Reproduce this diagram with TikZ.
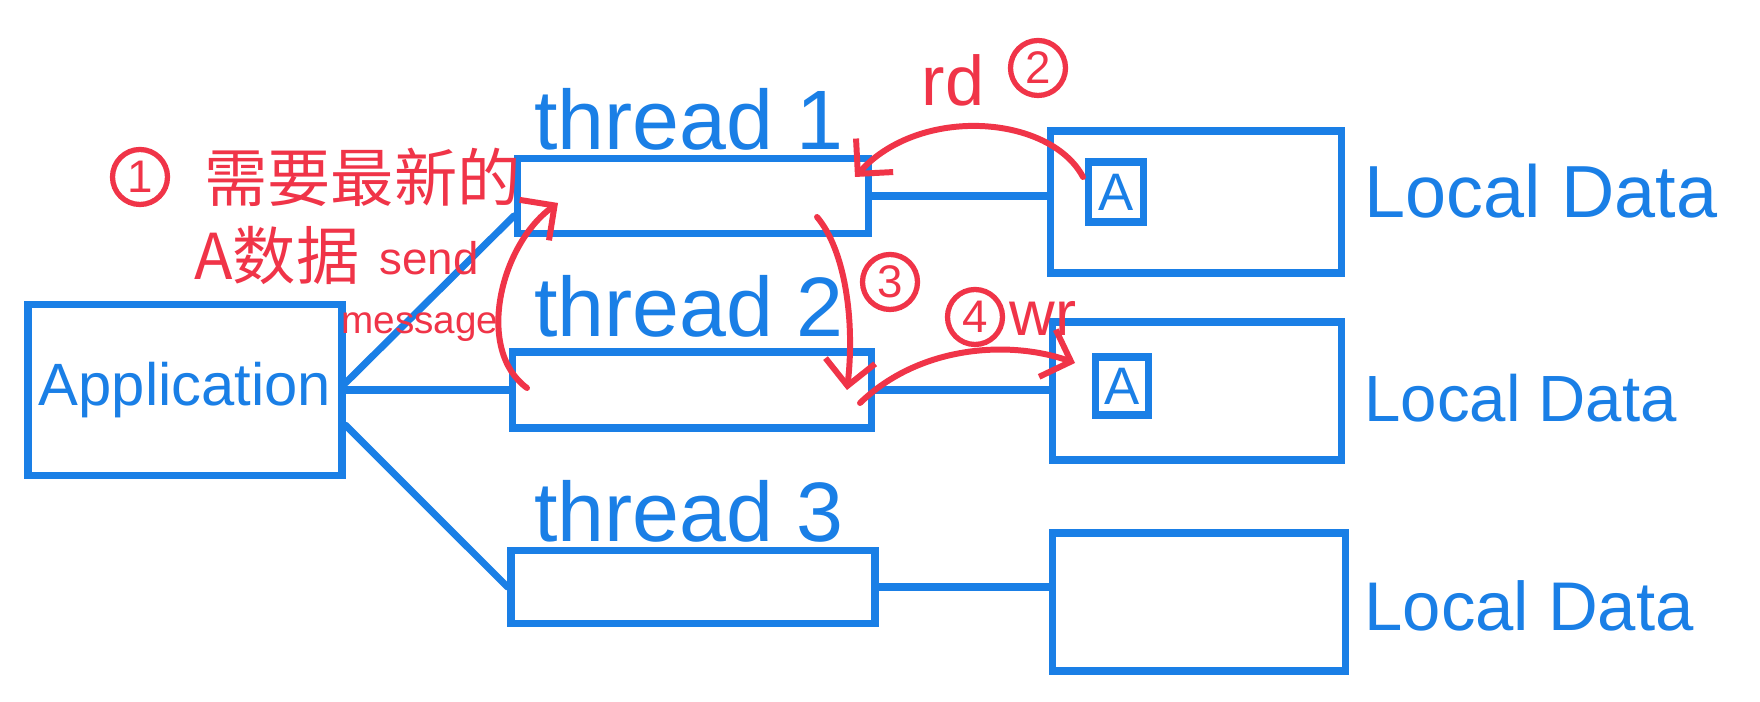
\documentclass[tikz,border=0pt]{standalone}
\usepackage{fontspec}
\setmainfont{Liberation Sans}
\newfontfamily\cjk{Noto Sans CJK SC}
\usetikzlibrary{arrows.meta}
\definecolor{penblue}{RGB}{26,127,230}
\definecolor{penred}{RGB}{240,52,72}

\begin{document}
\begin{tikzpicture}[x=0.1mm, y=-0.1mm,
    box/.style={draw=penblue, line width=2pt, inner sep=0pt},
    wire/.style={penblue, line width=2pt, line cap=round},
    note/.style={penred, line width=1.7pt, line cap=round, -{Straight Barb[length=2.5mm,width=5mm]}},
    numcirc/.style={circle, draw=penred, line width=1.5pt, minimum size=5.5mm, inner sep=0pt, text=penred, font=\fontsize{13}{13}\selectfont},
    bluetext/.style={text=penblue, font=\fontsize{24}{24}\selectfont},
    redtext/.style={text=penred}]
    \fill[white] (0,0) rectangle (1760,702);
    \useasboundingbox (0,0) rectangle (1760,702);

    % 1. 应用与线程方框
    \node[box, minimum width=31.4mm, minimum height=17.1mm, text=penblue, font=\fontsize{17}{17}\selectfont] (app) at (185,390) {Application};
    \node[box, minimum width=35.1mm, minimum height=7.5mm] (t1) at (693,196) {};
    \node[box, minimum width=35.9mm, minimum height=7.6mm] (t2) at (692,390) {};
    \node[box, minimum width=36.4mm, minimum height=7.3mm] (t3) at (693,587) {};
    \node[bluetext] (t1lab) at (689,119) {thread 1};
    \node[bluetext] (t2lab) at (689,306) {thread 2};
    \node[bluetext] (t3lab) at (689,511) {thread 3};

    % 2. 本地数据方框
    \node[box, minimum width=29.1mm, minimum height=14.2mm] (ld1) at (1196,202) {};
    \node[box, minimum width=28.9mm, minimum height=13.8mm] (ld2) at (1197,391) {};
    \node[box, minimum width=29.3mm, minimum height=13.8mm] (ld3) at (1199,602) {};
    \node[box, minimum width=5.5mm, minimum height=6mm, text=penblue, font=\fontsize{15}{15}\selectfont] (a1) at (1116,192) {A};
    \node[box, minimum width=5.3mm, minimum height=5.8mm, text=penblue, font=\fontsize{15}{15}\selectfont] (a2) at (1122,386) {A};
    \node[bluetext, font=\fontsize{21}{21}\selectfont, anchor=west] (ld1lab) at (1352,191) {Local Data};
    \node[bluetext, font=\fontsize{18.6}{18.6}\selectfont, anchor=west] (ld2lab) at (1352,398) {Local Data};
    \node[bluetext, font=\fontsize{19.6}{19.6}\selectfont, anchor=west] (ld3lab) at (1352,606) {Local Data};

    % 3. 连线
    \draw[wire] ([yshift=2pt]app.east) -- ([yshift=6pt]t1.south west);
    \draw[wire] (app.east) -- (t2.west);
    \draw[wire] ([yshift=-10pt]app.east) -- (t3.west);
    \draw[wire] (t1.east) -- (t1.east -| ld1.west);
    \draw[wire] (t2.east) -- (t2.east -| ld2.west);
    \draw[wire] (t3.east) -- (t3.east -| ld3.west);

    % 4. 红色批注
    \node[numcirc] (n1) at (140,177) {1};
    \node[redtext, font=\cjk\fontsize{18}{18}\selectfont, anchor=west] (need) at (192,177) {需要最新的};
    \node[redtext, font=\cjk\fontsize{18}{18}\selectfont, anchor=west] (adata) at (182,256) {A数据};
    \node[redtext, font=\fontsize{13}{13}\selectfont] (send) at (429,258) {send};
    \node[redtext, font=\fontsize{11}{11}\selectfont] (msg) at (420,327) {message};
    \node[redtext, font=\fontsize{20}{20}\selectfont] (rd) at (953,80) {rd};
    \node[numcirc] (n2) at (1038,68) {2};
    \node[numcirc] (n3) at (890,282) {3};
    \node[numcirc] (n4) at (975,317) {4};
    \node[redtext, font=\fontsize{18}{18}\selectfont] (wr) at (1043,318) {wr};

    % 5. 红色箭头
    \coordinate (s1) at (527,388);
    \coordinate (e1) at (558,203);
    \coordinate (s2) at (1083,177);
    \coordinate (e2) at (855,177);
    \coordinate (s3) at (817,217);
    \coordinate (e3) at (847,390);
    \coordinate (s4) at (860,403);
    \coordinate (e4) at (1075,363);
    \draw[note] (s1) .. controls (475,350) and (500,245) .. (e1);
    \draw[note] (s2) .. controls (1050,115) and (920,105) .. (e2);
    \draw[note] (s3) .. controls (845,250) and (855,320) .. (e3);
    \draw[note] (s4) .. controls (920,345) and (1010,340) .. (e4);
\end{tikzpicture}
\end{document}
